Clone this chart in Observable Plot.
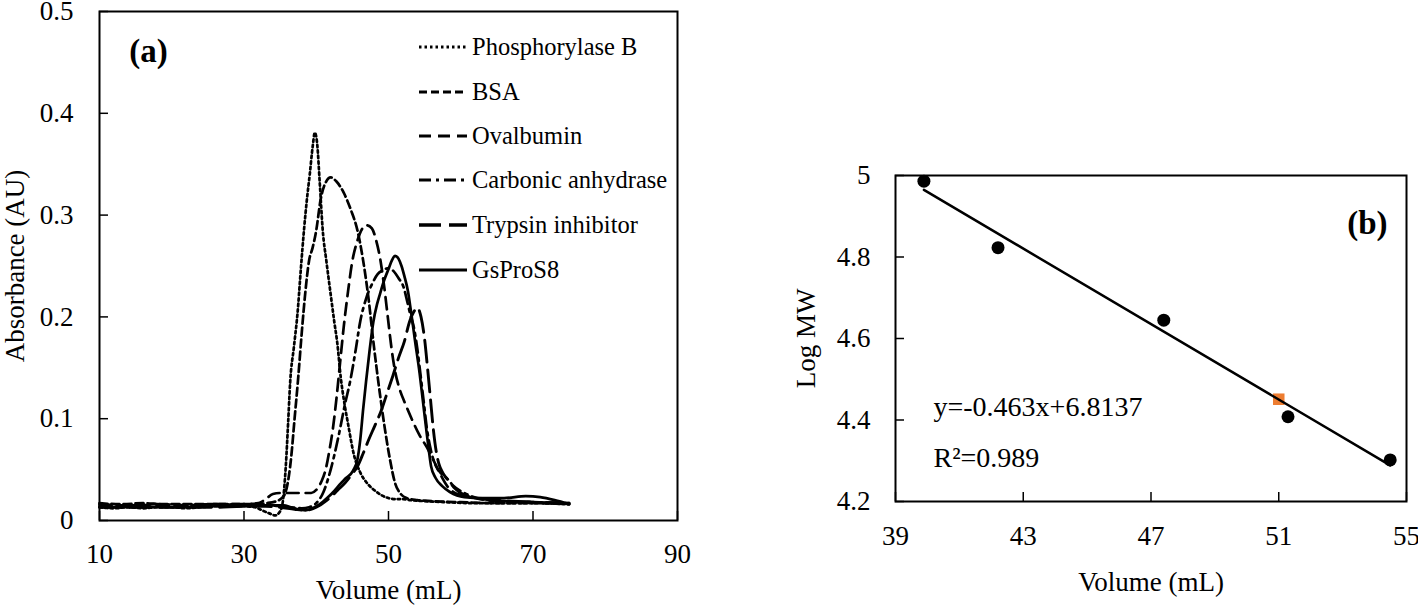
<!DOCTYPE html>
<html><head><meta charset="utf-8">
<script src="https://cdn.jsdelivr.net/npm/d3@7"></script>
<script src="https://cdn.jsdelivr.net/npm/@observablehq/plot@0.6"></script>
<style>
html,body{margin:0;padding:0;background:#fff;}
#wrap{position:relative;width:1418px;height:609px;overflow:hidden;background:#fff;font-family:"Liberation Serif","Times New Roman",serif;}
#a,#b,#legend{position:absolute;top:0;}
#a{left:0;} #b{left:700px;} #legend{left:0;}
</style></head><body>
<div id="wrap"><div id="a"></div><div id="b"></div><svg id="legend" width="700" height="320"></svg></div>
<script>
// ---------- Panel (a) data ----------
const seriesNames = ["Phosphorylase B","BSA","Ovalbumin","Carbonic anhydrase","Trypsin inhibitor","GsProS8"];
const phosphorylaseB = [[10,0.013],[12,0.012],[14,0.013],[16,0.012],[18,0.013],[20,0.013],[22,0.012],[24,0.013],[26,0.014],[28,0.014],[30,0.014],[31.5,0.013],[32.5,0.010],[33.5,0.007],[34.3,0.005],[35,0.009],[35.4,0.02],[35.8,0.055],[36.1,0.095],[36.4,0.137],[36.9,0.17],[37.4,0.203],[37.9,0.25],[38.3,0.285],[38.7,0.315],[39.1,0.34],[39.5,0.367],[39.8,0.381],[40.1,0.372],[40.5,0.33],[40.9,0.285],[41.4,0.255],[42,0.222],[42.5,0.195],[42.9,0.175],[43.4,0.14],[43.9,0.115],[44.4,0.095],[45.2,0.065],[46.1,0.047],[47,0.037],[48,0.03],[49,0.025],[50,0.022],[51,0.021],[52,0.021],[53,0.02],[55,0.019],[58,0.018],[62,0.017],[66,0.017],[70,0.017],[75,0.016]];
const bsa = [[10,0.017],[13,0.016],[16,0.017],[19,0.016],[22,0.016],[25,0.016],[28,0.016],[31,0.016],[33,0.017],[34.5,0.019],[35.5,0.024],[36,0.035],[36.5,0.06],[37,0.1],[37.5,0.14],[38,0.185],[38.5,0.225],[39,0.255],[39.5,0.268],[40,0.285],[40.6,0.315],[41.3,0.332],[42,0.337],[42.8,0.333],[43.8,0.322],[44.8,0.305],[45.7,0.285],[46.5,0.255],[47.2,0.22],[48,0.17],[48.8,0.125],[49.5,0.09],[50.2,0.06],[50.9,0.037],[51.7,0.026],[52.5,0.022],[54,0.02],[56,0.019],[60,0.018],[65,0.017],[70,0.017],[75,0.016]];
const ovalbumin = [[10,0.015],[14,0.015],[18,0.015],[22,0.015],[26,0.016],[30,0.016],[32,0.017],[33,0.021],[34,0.026],[35,0.027],[36.5,0.027],[38,0.027],[39.3,0.027],[40,0.03],[40.7,0.038],[41.3,0.05],[41.8,0.068],[42.3,0.09],[42.8,0.12],[43.3,0.155],[43.8,0.19],[44.4,0.225],[45,0.255],[45.7,0.275],[46.4,0.287],[47,0.29],[47.7,0.287],[48.3,0.275],[48.9,0.255],[49.4,0.23],[49.9,0.2],[50.4,0.17],[50.9,0.147],[51.5,0.13],[52.3,0.115],[53.2,0.1],[54.2,0.085],[55.3,0.072],[56.3,0.058],[57.2,0.045],[58.1,0.034],[59,0.028],[60,0.025],[62,0.022],[65,0.019],[70,0.018],[75,0.017]];
const carbonicAnhydrase = [[10,0.016],[14,0.015],[18,0.016],[22,0.015],[26,0.016],[30,0.015],[33,0.015],[35,0.014],[36.5,0.013],[38,0.012],[39,0.013],[40,0.017],[41,0.028],[42,0.05],[43,0.08],[44,0.115],[44.7,0.137],[45.4,0.165],[46.1,0.196],[46.9,0.218],[47.7,0.232],[48.5,0.242],[49.3,0.246],[50,0.248],[50.7,0.245],[51.4,0.238],[52.1,0.229],[52.6,0.215],[53,0.203],[53.5,0.19],[54,0.168],[54.4,0.145],[54.9,0.115],[55.3,0.091],[55.9,0.068],[56.6,0.053],[57.3,0.046],[58,0.042],[59,0.034],[60.5,0.027],[63,0.021],[66,0.019],[70,0.018],[75,0.017]];
const trypsinInhibitor = [[10,0.013],[14,0.013],[18,0.013],[22,0.013],[26,0.013],[30,0.014],[33,0.014],[35,0.013],[37,0.011],[38.5,0.01],[40,0.013],[41.5,0.02],[43,0.03],[44,0.037],[45,0.046],[45.7,0.053],[46.5,0.066],[47.3,0.08],[48.1,0.093],[49,0.108],[49.8,0.125],[50.6,0.142],[51.4,0.16],[52.2,0.176],[52.9,0.195],[53.5,0.205],[54,0.209],[54.5,0.2],[55,0.178],[55.4,0.15],[55.8,0.12],[56.2,0.09],[56.6,0.068],[57,0.055],[57.5,0.047],[58.2,0.04],[59,0.033],[60,0.027],[62,0.022],[65,0.02],[70,0.018],[75,0.017]];
const gsProS8 = [[10,0.013],[14,0.013],[18,0.013],[22,0.013],[26,0.014],[30,0.014],[32,0.015],[34,0.015],[35.5,0.015],[36.5,0.013],[37.5,0.011],[38.5,0.01],[39.5,0.012],[40.5,0.016],[41.5,0.022],[42.5,0.029],[43.2,0.035],[44,0.041],[45.1,0.049],[45.7,0.06],[46.1,0.08],[46.5,0.11],[46.9,0.137],[47.4,0.168],[47.9,0.195],[48.4,0.212],[48.8,0.222],[49.4,0.236],[50,0.247],[50.5,0.256],[50.9,0.26],[51.4,0.257],[51.8,0.25],[52.2,0.24],[52.7,0.225],[53.1,0.206],[53.7,0.175],[54.3,0.145],[54.8,0.115],[55.2,0.091],[55.6,0.068],[55.9,0.053],[56.5,0.042],[57.4,0.034],[58.5,0.028],[60.5,0.023],[63,0.022],[66,0.022],[69,0.024],[71,0.023],[73,0.02],[75,0.016]];
const xTicksA = [10,30,50,70,90];
const yTicksA = [0,0.1,0.2,0.3,0.4,0.5];

// ---------- Panel (b) data ----------
const stdVolume = [39.89, 42.21, 47.40, 51.29, 54.49];
const stdLogMW = [4.986, 4.823, 4.645, 4.408, 4.302];
const sampleVolume = [51.0];
const sampleLogMW = [4.451];
const xTicksB = [39,43,47,51,55];
const yTicksB = [4.2,4.4,4.6,4.8,5];
const equationText = "y=-0.463x+6.8137";
const r2Text = "R\u00B2=0.989";

// ---------- styles ----------
const FONT = '"Liberation Serif","Times New Roman",serif';
const dashes = ["2.5,3","8,4","12,7","12,5,3,5","22,8",null];
const widths = [2.7,2.7,2.7,2.7,2.9,2.7];

const curves = [phosphorylaseB,bsa,ovalbumin,carbonicAnhydrase,trypsinInhibitor,gsProS8];
const tableA = seriesNames.map((name,i)=>curves[i].map(([x,y])=>({series:name,x,y})));

const plotA = Plot.plot({
  width:700, height:609,
  marginLeft:99, marginRight:23, marginTop:11, marginBottom:89,
  style:{fontFamily:FONT, fontSize:"27px", color:"black", background:"transparent", overflow:"visible"},
  x:{domain:[10,90], label:null},
  y:{domain:[0,0.5], label:null},
  marks:[
    ...tableA.map((d,i)=>Plot.line(d,{x:"x",y:"y",stroke:"black",strokeWidth:widths[i],strokeDasharray:dashes[i],curve:"monotone-x"})),
    Plot.frame({stroke:"black",strokeWidth:2}),
    Plot.axisX({ticks:xTicksA, tickSize:-9, tickPadding:32, tickFormat:d=>String(d), fontSize:27, strokeWidth:1.5, label:null}),
    Plot.axisY({ticks:yTicksA, tickSize:-9, tickPadding:35, tickFormat:d=>String(d), fontSize:27, strokeWidth:1.5, label:null}),
    Plot.text(["Volume (mL)"],{frameAnchor:"bottom", dy:70, fontSize:27, textAnchor:"middle", lineAnchor:"middle"}),
    Plot.text(["Absorbance (AU)"],{frameAnchor:"left", dx:-84, rotate:-90, fontSize:27, textAnchor:"middle", lineAnchor:"middle"}),
    Plot.text(["(a)"],{frameAnchor:"top-left", dx:49, dy:40, fontSize:33, fontWeight:"bold", textAnchor:"middle", lineAnchor:"middle"})
  ]
});
document.getElementById("a").append(plotA);

// legend for (a)
const leg = d3.select("#legend");
const rowsY = [47,92,136,180,225,270];
seriesNames.forEach((name,i)=>{
  const g = leg.append("g").attr("transform",`translate(0,${rowsY[i]})`);
  g.append("line").attr("x1",419).attr("x2",467).attr("y1",0).attr("y2",0)
    .attr("stroke","black").attr("stroke-width",widths[i]+0.4)
    .attr("stroke-dasharray",dashes[i]);
  g.append("text").attr("x",472).attr("y",0).attr("dy","0.32em")
    .attr("font-family",FONT).attr("font-size",24.5).attr("fill","black").text(name);
});

// ---------- Panel (b) ----------
const stdData = stdVolume.map((v,i)=>({v, m:stdLogMW[i]}));
const sampleData = sampleVolume.map((v,i)=>({v, m:sampleLogMW[i]}));
const plotB = Plot.plot({
  width:718, height:609,
  marginLeft:195, marginRight:12, marginTop:175, marginBottom:108,
  style:{fontFamily:FONT, fontSize:"27px", color:"black", background:"transparent", overflow:"visible"},
  x:{domain:[39,55], label:null},
  y:{domain:[4.2,5], label:null},
  marks:[
    Plot.dot(sampleData,{x:"v",y:"m",symbol:"square",r:6.5,fill:"#ED7D31",stroke:null}),
    Plot.linearRegressionY(stdData,{x:"v",y:"m",ci:0,stroke:"black",strokeWidth:2.5}),
    Plot.dot(stdData,{x:"v",y:"m",r:6.5,fill:"black",stroke:null}),
    Plot.frame({stroke:"black",strokeWidth:2}),
    Plot.axisX({ticks:xTicksB, tickSize:-9, tickPadding:33, tickFormat:d=>String(d), fontSize:27, strokeWidth:1.5, label:null}),
    Plot.axisY({ticks:yTicksB, tickSize:-9, tickPadding:34, tickFormat:d=>String(+d.toFixed(1)), fontSize:27, strokeWidth:1.5, label:null}),
    Plot.text(["Volume (mL)"],{frameAnchor:"bottom", dy:81, fontSize:27, textAnchor:"middle", lineAnchor:"middle"}),
    Plot.text(["Log MW"],{frameAnchor:"left", dx:-89, rotate:-90, fontSize:27, textAnchor:"middle", lineAnchor:"middle"}),
    Plot.text(["(b)"],{frameAnchor:"top-right", dx:-19, dy:48, fontSize:33, fontWeight:"bold", textAnchor:"end", lineAnchor:"middle"}),
    Plot.text([equationText],{frameAnchor:"bottom-left", dx:38, dy:-94, fontSize:28, textAnchor:"start", lineAnchor:"middle"}),
    Plot.text([r2Text],{frameAnchor:"bottom-left", dx:38, dy:-43, fontSize:28, textAnchor:"start", lineAnchor:"middle"})
  ]
});
document.getElementById("b").append(plotB);
</script>
</body></html>
